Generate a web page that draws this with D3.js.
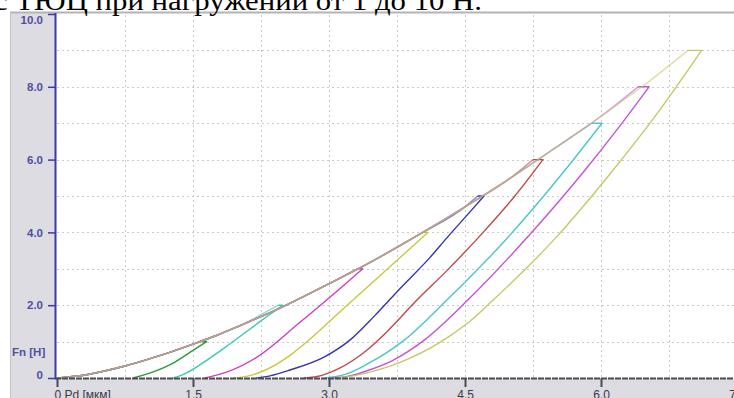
<!DOCTYPE html>
<html>
<head>
<meta charset="utf-8">
<script src="https://cdn.jsdelivr.net/npm/d3@7"></script>
<style>
	body { margin: 0; background: #fff; }
	svg { display: block; }
</style>
</head>
<body>
<svg width="734" height="398"></svg>
<script>
/* global d3 */

// peak loads of the nine cycles, N
var loads = [1, 2, 3, 4, 5, 6, 7, 8, 9]
var colors = ['#2f9a3e', '#3cc8b2', '#d43cc2', '#c9c83e', '#3434b4', '#c24848', '#48c8c8', '#c852d4', '#c9c866']

// common loading branch [depth, force]
var loading = [[0, 0], [0.25, 0.06], [0.5, 0.18], [0.75, 0.33], [1.0, 0.51], [1.25, 0.71],
	[1.5, 0.93], [1.75, 1.16], [2.0, 1.42], [2.5, 1.97], [3.0, 2.59], [3.5, 3.24],
	[4.0, 3.95], [4.5, 4.7], [5.0, 5.49], [5.5, 6.33], [6.0, 7.19], [6.5, 8.09], [7.0, 9.04]]

// depth where the hold at peak load starts and ends
var holdStart = [1.58, 2.44, 3.31, 4.03, 4.64, 5.25, 5.90, 6.41, 6.96]
var holdEnd = [1.65, 2.49, 3.37, 4.09, 4.71, 5.36, 6.01, 6.53, 7.11]

// unloading branches [depth, force], from the residual depth up
var unload1 = [[0.84, 0], [1.03, 0.14], [1.28, 0.41], [1.47, 0.71]]
var unload2 = [[1.28, 0], [1.42, 0.13], [1.6, 0.4], [1.82, 0.78], [2.04, 1.18], [2.26, 1.59]]
var unload3 = [[1.63, 0], [1.87, 0.16], [2.21, 0.58], [2.68, 1.53], [3.01, 2.22]]
var unload4 = [[1.95, 0], [2.1, 0.05], [2.3, 0.22], [2.57, 0.62], [2.85, 1.2], [3.2, 2.0], [3.58, 2.85]]
var unload5 = [[2.2, 0], [2.35, 0.06], [2.57, 0.22], [2.95, 0.58], [3.23, 1.04], [3.5, 1.7],
	[3.8, 2.5], [4.11, 3.3], [4.3, 3.85], [4.55, 4.55]]
var unload6 = [[2.72, 0], [2.87, 0.04], [3.1, 0.25], [3.42, 0.77], [3.65, 1.3], [3.97, 2.14],
	[4.3, 2.95], [4.7, 4.0], [5.05, 5.0]]
var unload7 = [[2.95, 0], [3.18, 0.1], [3.42, 0.38], [3.83, 1.04], [4.3, 2.14], [4.95, 3.8], [5.6, 5.7]]
var unload8 = [[3.05, 0], [3.2, 0.04], [3.42, 0.2], [3.7, 0.48], [4.05, 1.04], [4.53, 2.14],
	[5.2, 3.9], [5.82, 5.7], [6.2, 6.9]]
var unload9 = [[3.1, 0], [3.2, 0.03], [3.42, 0.14], [3.9, 0.55], [4.33, 1.15], [4.55, 1.55],
	[4.81, 2.14], [5.5, 3.85], [6.13, 5.7], [6.6, 7.2]]
var unloading = [unload1, unload2, unload3, unload4, unload5, unload6, unload7, unload8, unload9]

// axis ticks
var xMajor = [0, 1.5, 3.0, 4.5, 6.0, 7.5]
var xMajorLabels = ['0 Pd [мкм]', '1.5', '3.0', '4.5', '6.0', '7.5']
var xMinor = [0.75, 2.25, 3.75, 5.25, 6.75]
var yMajor = [0, 2, 4, 6, 8, 10]
var yMajorLabels = ['0', '2.0', '4.0', '6.0', '8.0', '10.0']
var yMinor = [1, 3, 5, 7, 9]
var yGrid = [1, 2, 3, 4, 5, 6, 7, 8, 9]

var caption = 'с ТЮЦ при нагружении от 1 до 10 Н.'

var svg = d3.select('svg')
var x = d3.scaleLinear().domain([0, 7.5]).range([57, 737])
var y = d3.scaleLinear().domain([0, 10]).range([378, 14])

// frame
svg.append('rect').attr('x', 10).attr('y', 12).attr('width', 45).attr('height', 386).attr('fill', '#dcdce2')
svg.append('rect').attr('x', 10).attr('y', 379).attr('width', 724).attr('height', 19).attr('fill', '#dcdce2')
svg.append('line').attr('x1', 10).attr('x2', 734).attr('y1', 12.5).attr('y2', 12.5)
	.attr('stroke', '#b4b4b8').attr('stroke-width', 2)
svg.append('line').attr('x1', 10.5).attr('x2', 10.5).attr('y1', 12).attr('y2', 398)
	.attr('stroke', '#c4c4c8').attr('stroke-width', 1)

// grid
var grid = svg.append('g').attr('stroke', '#cacaca').attr('stroke-dasharray', '2,3').attr('stroke-width', 1)
grid.selectAll('.gx').data(xMajor.concat(xMinor).filter(function(d) { return d > 0 && d < 7.5 }))
	.enter().append('line')
	.attr('x1', function(d) { return Math.round(x(d)) + 0.5 })
	.attr('x2', function(d) { return Math.round(x(d)) + 0.5 })
	.attr('y1', 15).attr('y2', 378)
grid.selectAll('.gy').data(yGrid)
	.enter().append('line')
	.attr('x1', 57).attr('x2', 734)
	.attr('y1', function(d) { return Math.round(y(d)) + 0.5 })
	.attr('y2', function(d) { return Math.round(y(d)) + 0.5 })

// curves
var line = d3.line()
	.x(function(d) { return x(d[0]) })
	.y(function(d) { return y(d[1]) })
	.curve(d3.curveMonotoneX)

var curves = svg.append('g').attr('fill', 'none').attr('stroke-width', 1.4).attr('stroke-linejoin', 'round')
loads.forEach(function(f, i) {
	var up = loading.filter(function(p) { return p[0] < holdStart[i] })
		.concat([[holdStart[i], f]])
	var down = unloading[i].concat([[holdEnd[i], f]])
	curves.append('path').attr('d', line(up)).attr('stroke', colors[i]).attr('stroke-opacity', 0.6)
	curves.append('path').attr('d', line(down) + 'L' + x(holdStart[i]) + ',' + y(f))
		.attr('stroke', colors[i])
})

// x axis
var axisColor = '#4a4a4e'
var gx = svg.append('g').attr('transform', 'translate(0,378)')
gx.call(d3.axisBottom(x).tickValues(xMinor).tickSize(5).tickFormat(''))
gx.call(d3.axisBottom(x).tickValues(xMajor).tickSize(9)
	.tickFormat(function(d, i) { return xMajorLabels[i] }))
gx.selectAll('.domain').remove()
gx.selectAll('line').attr('stroke', axisColor).attr('stroke-width', 2)
gx.selectAll('text').attr('fill', '#3a3a48').attr('font-family', 'Liberation Sans, Arial, sans-serif')
	.attr('font-size', 12).attr('y', 12).attr('dy', '0.71em')
gx.selectAll('.tick').filter(function(d) { return d === 0 }).select('text')
	.attr('text-anchor', 'start').attr('x', -3)
svg.append('line').attr('x1', 55).attr('x2', 734).attr('y1', 378.5).attr('y2', 378.5)
	.attr('stroke', axisColor).attr('stroke-width', 2).attr('stroke-dasharray', '6,1')

// y axis
var blue = '#3b3ba6'
var gy = svg.append('g').attr('transform', 'translate(56,0)')
gy.call(d3.axisLeft(y).tickValues(yMinor).tickSize(4).tickFormat(''))
gy.call(d3.axisLeft(y).tickValues(yMajor).tickSize(8)
	.tickFormat(function(d, i) { return yMajorLabels[i] }))
gy.selectAll('.domain').remove()
gy.selectAll('line').attr('stroke', blue).attr('stroke-width', 1.5)
gy.selectAll('text').attr('fill', '#50509e').attr('font-family', 'Liberation Sans, Arial, sans-serif')
	.attr('font-size', 11.5).attr('font-weight', 'bold').attr('x', -13)
gy.selectAll('.tick').filter(function(d) { return d === 10 }).select('text').attr('dy', '0.8em')
gy.selectAll('.tick').filter(function(d) { return d === 0 }).select('text').attr('dy', '0')
svg.append('line').attr('x1', 55.5).attr('x2', 55.5).attr('y1', 13).attr('y2', 379)
	.attr('stroke', blue).attr('stroke-width', 2)

svg.append('text').attr('x', 12).attr('y', 356).text('Fn [H]')
	.attr('fill', '#50509e').attr('font-family', 'Liberation Sans, Arial, sans-serif')
	.attr('font-size', 11.5).attr('font-weight', 'bold')

// caption cut at the top edge
svg.append('text').attr('x', -6).attr('y', 10).text(caption)
	.attr('font-family', 'Liberation Serif, Times New Roman, serif')
	.attr('font-size', 28).attr('fill', '#000')
	.attr('textLength', 488).attr('lengthAdjust', 'spacingAndGlyphs')
</script>
</body>
</html>
